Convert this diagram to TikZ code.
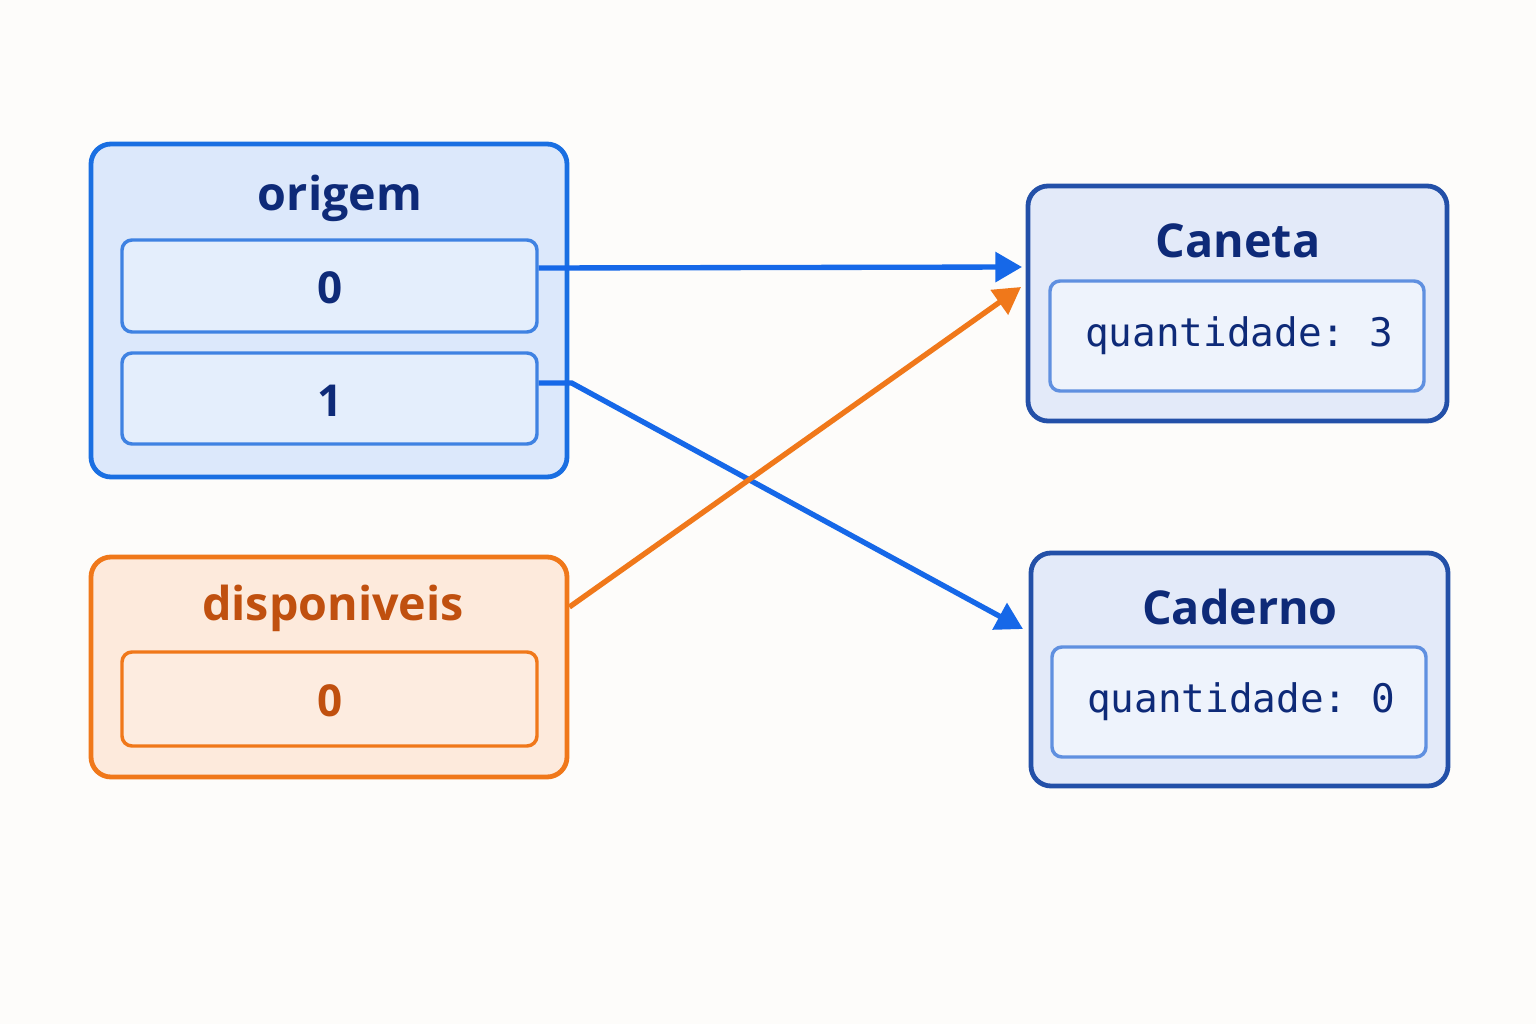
\documentclass[tikz,border=0pt]{standalone}
\usepackage{fontspec}
\setsansfont{Open Sans}
\setmonofont{DejaVu Sans Mono}
\usetikzlibrary{arrows.meta}

\definecolor{bgpaper}{RGB}{253,252,250}
\definecolor{blueline}{RGB}{26,111,226}
\definecolor{bluefill}{RGB}{220,232,251}
\definecolor{blueinner}{RGB}{63,130,226}
\definecolor{bluecell}{RGB}{228,238,252}
\definecolor{navytext}{RGB}{14,42,120}
\definecolor{arrowblue}{RGB}{22,104,232}
\definecolor{orangeline}{RGB}{240,120,26}
\definecolor{orangefill}{RGB}{253,234,220}
\definecolor{orangecell}{RGB}{253,236,224}
\definecolor{orangetext}{RGB}{192,80,15}
\definecolor{objline}{RGB}{35,80,168}
\definecolor{objfill}{RGB}{227,234,249}
\definecolor{objinner}{RGB}{96,144,224}
\definecolor{objcell}{RGB}{238,243,252}

\tikzset{every picture/.style={line width=0.75pt}}
\tikzset{
  outerbox/.style={rounded corners=15pt, line width=3.6pt, inner sep=0pt},
  cellbox/.style={rounded corners=7.5pt, line width=2.6pt, inner sep=0pt},
  titletext/.style={inner sep=0.75pt, font=\sffamily\bfseries\fontsize{35}{40}\selectfont},
  celltext/.style={inner sep=0.75pt, font=\sffamily\bfseries\fontsize{33}{38}\selectfont},
  fieldtext/.style={inner sep=0.75pt, font=\ttfamily\fontsize{29.5}{34}\selectfont, text=navytext},
  link/.style={line width=4pt, -{Triangle[length=20pt,width=22pt]}}
}

\begin{document}
\begin{tikzpicture}[x=0.75pt,y=0.75pt,yscale=-1,xscale=1]
        %set diagram to the full page
        \fill [bgpaper] (0,0) rectangle (1536,1024) ;

        %Rounded Rect [origem]
        \node [outerbox, draw=blueline, fill=bluefill, minimum width=357pt, minimum height=249.75pt] (origem) at (329,310.5) {};
        \node [cellbox, draw=blueinner, fill=bluecell, minimum width=311.25pt, minimum height=69pt] (cellA) at (329.5,286) {};
        \node [cellbox, draw=blueinner, fill=bluecell, minimum width=311.25pt, minimum height=68.25pt] (cellB) at (329.5,398.5) {};
        %Rounded Rect [disponiveis]
        \node [outerbox, draw=orangeline, fill=orangefill, minimum width=357pt, minimum height=165pt] (disp) at (329,667) {};
        \node [cellbox, draw=orangeline, fill=orangecell, minimum width=311.25pt, minimum height=70.5pt] (cellC) at (329.5,699) {};
        %Rounded Rect [Caneta]
        \node [outerbox, draw=objline, fill=objfill, minimum width=314.25pt, minimum height=176.25pt] (caneta) at (1237.5,303.5) {};
        \node [cellbox, draw=objinner, fill=objcell, minimum width=280.5pt, minimum height=82.5pt] (canetaQ) at (1237,336) {};
        %Rounded Rect [Caderno]
        \node [outerbox, draw=objline, fill=objfill, minimum width=312.75pt, minimum height=174.75pt] (caderno) at (1239.5,669.5) {};
        \node [cellbox, draw=objinner, fill=objcell, minimum width=280.5pt, minimum height=82.5pt] (cadernoQ) at (1239,702) {};

        % Text Node
        \node [titletext, text=navytext] (tOrigem) at (340,198) {origem};
        % Text Node
        \node [celltext, text=navytext] (vA) at (330,288) {0};
        % Text Node
        \node [celltext, text=navytext] (vB) at (330,401) {1};
        % Text Node
        \node [titletext, text=orangetext] (tDisp) at (333,608) {disponiveis};
        % Text Node
        \node [celltext, text=orangetext] (vC) at (330,701) {0};
        % Text Node
        \node [titletext, text=navytext] (tCaneta) at (1238,241) {Caneta};
        % Text Node
        \node [fieldtext] (qCaneta) at (1239,336) {quantidade: 3};
        % Text Node
        \node [titletext, text=navytext] (tCaderno) at (1240,607) {Caderno};
        % Text Node
        \node [fieldtext] (qCaderno) at (1241,702) {quantidade: 0};

        %Arrow tips
        \coordinate (inCanetaA) at (1022,267) ;
        \coordinate (inCanetaB) at (1021,287) ;
        \coordinate (inCaderno) at (1023,629) ;

        %Straight Lines
        \draw [link, arrowblue] ([yshift=-13.5pt]cellA.east) -- (inCanetaA) ;
        %Straight Lines
        \draw [link, arrowblue] ([yshift=-11.6pt]cellB.east) -- ++(33,0) -- (inCaderno) ;
        %Straight Lines
        \draw [link, orangeline] ([yshift=-45pt]disp.east) -- (inCanetaB) ;

    \end{tikzpicture}
\end{document}
